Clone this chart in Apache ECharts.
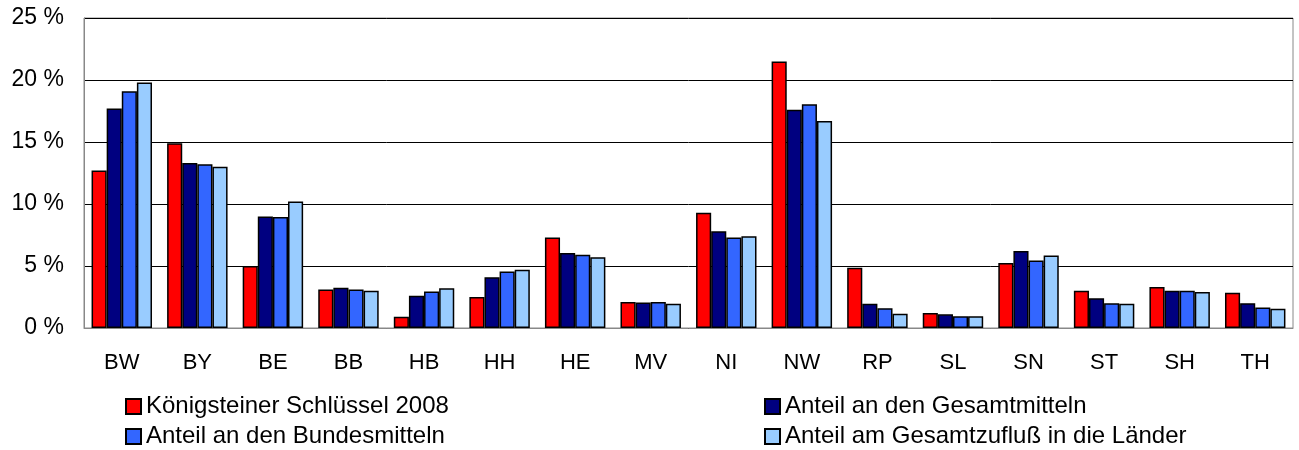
<!DOCTYPE html>
<html>
<head>
<meta charset="utf-8">
<script src="https://cdn.jsdelivr.net/npm/echarts@6/dist/echarts.min.js"></script>
<style>
  html, body { margin: 0; padding: 0; background: #fff; }
  #chart { width: 1299px; height: 450px; }
</style>
</head>
<body>
<div id="chart"></div>
<script>
// Federal states (Länder) abbreviations
const categories = ['BW', 'BY', 'BE', 'BB', 'HB', 'HH', 'HE', 'MV', 'NI', 'NW', 'RP', 'SL', 'SN', 'ST', 'SH', 'TH'];

// Shares in percent per state
const koenigsteiner = [12.7, 14.9, 5.0, 3.1, 0.9, 2.5, 7.3, 2.1, 9.3, 21.5, 4.85, 1.2, 5.25, 3.0, 3.3, 2.85];
const gesamtmittel  = [17.7, 13.3, 9.0, 3.25, 2.6, 4.1, 6.05, 2.05, 7.8, 17.6, 1.95, 1.1, 6.2, 2.4, 3.0, 2.0];
const bundesmittel  = [19.1, 13.2, 8.95, 3.1, 2.95, 4.55, 5.9, 2.1, 7.3, 18.05, 1.6, 0.95, 5.45, 2.0, 3.0, 1.65];
const gesamtzufluss = [19.8, 13.0, 10.2, 3.0, 3.2, 4.7, 5.7, 1.95, 7.4, 16.7, 1.15, 0.95, 5.85, 1.95, 2.9, 1.55];

const seriesNames = [
  'Königsteiner Schlüssel 2008',
  'Anteil an den Gesamtmitteln',
  'Anteil an den Bundesmitteln',
  'Anteil am Gesamtzufluß in die Länder'
];
const seriesColors = ['#ff0000', '#000080', '#3366ff', '#99ccff'];
const seriesData = [koenigsteiner, gesamtmittel, bundesmittel, gesamtzufluss];

const yTicks = [0, 5, 10, 15, 20, 25];

const font = '"Liberation Sans", Arial, sans-serif';

const chart = echarts.init(document.getElementById('chart'), null, { renderer: 'canvas' });

// Two legend columns, two rows each
const legendBase = {
  orient: 'vertical',
  padding: 0,
  itemWidth: 15,
  itemHeight: 15,
  itemGap: 5,
  icon: 'rect',
  textStyle: { fontFamily: font, fontSize: 24, color: '#000', lineHeight: 25 },
  top: 394
};

chart.setOption({
  animation: false,
  backgroundColor: '#fff',
  grid: {
    left: 84, right: 6, top: 18, bottom: 122,
    show: true, borderColor: '#888', borderWidth: 1
  },
  legend: [
    Object.assign({}, legendBase, { left: 125, data: [seriesNames[0], seriesNames[2]] }),
    Object.assign({}, legendBase, { left: 764, data: [seriesNames[1], seriesNames[3]] })
  ],
  xAxis: {
    type: 'category',
    data: categories,
    axisLine: { show: true, lineStyle: { color: '#888', width: 1 } },
    axisTick: { show: false },
    axisLabel: { fontFamily: font, fontSize: 22, color: '#000', margin: 24 }
  },
  yAxis: {
    type: 'value',
    min: yTicks[0],
    max: yTicks[yTicks.length - 1],
    interval: 5,
    axisLine: { show: true, lineStyle: { color: '#888', width: 1 } },
    axisTick: { show: false },
    splitLine: { show: true, lineStyle: { color: '#000', width: 1 } },
    axisLabel: {
      fontFamily: font, fontSize: 23, color: '#000', margin: 20,
      formatter: v => v + ' %'
    }
  },
  series: seriesData.map((d, i) => ({
    name: seriesNames[i],
    type: 'bar',
    data: d,
    barGap: '0%',
    barCategoryGap: '20%',
    itemStyle: { color: seriesColors[i], borderColor: '#000', borderWidth: 1.5 }
  }))
});
</script>
</body>
</html>
